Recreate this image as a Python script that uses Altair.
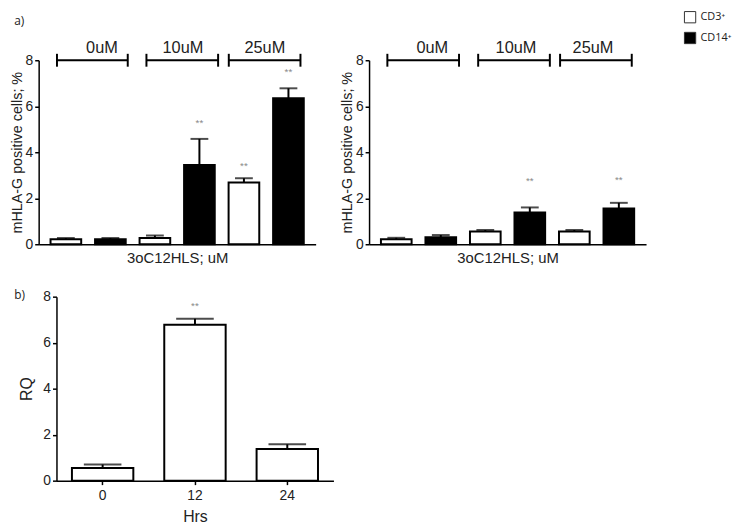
import altair as alt
import pandas as pd

# ---------- data: panel a) left ----------
pos = [1, 2, 3, 4, 5, 6]
cell = ["CD3⁺", "CD14⁺", "CD3⁺", "CD14⁺", "CD3⁺", "CD14⁺"]
a1_mean = [0.22, 0.22, 0.27, 3.45, 2.68, 6.35]
a1_upper = [0.27, 0.27, 0.38, 4.58, 2.87, 6.78]
a1_star_pos = [4, 5, 6]
a1_star_y = [5.25, 3.38, 7.47]

# ---------- data: panel a) right ----------
a2_mean = [0.22, 0.30, 0.55, 1.38, 0.55, 1.55]
a2_upper = [0.28, 0.40, 0.62, 1.60, 0.62, 1.80]
a2_star_pos = [4, 6]
a2_star_y = [2.75, 2.78]

# ---------- concentration brackets ----------
conc = ["0uM", "10uM", "25uM"]
a1_br_start = [0.80, 2.81, 4.66]
a1_br_end = [2.39, 4.42, 6.27]
a1_lab_x = [1.81, 3.63, 5.47]
a2_br_start = [0.80, 2.84, 4.68]
a2_br_end = [2.41, 4.45, 6.29]
a2_lab_x = [1.81, 3.69, 5.42]
br_y = [8.0, 8.0, 8.0]
br_lo = [7.72, 7.72, 7.72]
br_hi = [8.28, 8.28, 8.28]
lab_y = [8.55, 8.55, 8.55]

# ---------- data: panel b) ----------
hrs = ["0", "12", "24"]
rq = [0.55, 6.78, 1.38]
rq_upper = [0.70, 7.04, 1.58]
b_star_x = ["12"]
b_star_y = [7.6]

# ---------- panel tags (in panel a) left data units) ----------
tag_text = ["a)", "b)"]
tag_x = [-0.16, -0.16]
tag_y = [9.72, -2.19]

cells_domain = ["CD3⁺", "CD14⁺"]
cells_range = ["white", "black"]

# ---------- layout (pixels inside the view) ----------
W, H = 742, 517
A1_X = [31, 311]
A2_X = [365, 645]
A_Y = [236, 50]
B_X = [49, 329]
B_Y = [475, 289]

FONT = "Liberation Sans"

legend = alt.Legend(title=None, orient="none", legendX=683, legendY=0,
                    symbolType="square", symbolSize=130, symbolStrokeColor="#333",
                    symbolStrokeWidth=1, labelFont="Open Sans", labelFontSize=11,
                    labelColor="#222", rowPadding=4, padding=0)


def panel_a(mean, upper, star_pos, star_y, bs, be, lx, xrange, tags=False):
    df = pd.DataFrame({"pos": pos, "cell": cell, "mean": mean, "upper": upper})
    sdf = pd.DataFrame({"pos": star_pos, "y": star_y, "t": ["**"] * len(star_pos)})
    bdf = pd.DataFrame({"s": bs, "e": be, "y": br_y, "lo": br_lo, "hi": br_hi,
                        "lx": lx, "ly": lab_y, "lab": conc})
    xs = alt.Scale(domain=[0.5, 6.5], range=xrange, nice=False, zero=False)
    ys = alt.Scale(domain=[0, 8], range=A_Y, nice=False, zero=False)
    xax = alt.Axis(orient="bottom", offset=A_Y[0] - H, title="3oC12HLS; uM",
                   labels=False, ticks=False, titlePadding=6, titleFontSize=15)
    yax = alt.Axis(orient="left", offset=-xrange[0], title="mHLA-G positive cells; %",
                   values=[0, 2, 4, 6, 8], format="d", titlePadding=1,
                   titleFontSize=14.5)
    bars = alt.Chart(df).mark_bar(stroke="black", strokeWidth=2, size=31,
                                  orient="vertical").encode(
        x=alt.X("pos:Q", scale=xs, axis=xax),
        y=alt.Y("mean:Q", scale=ys, axis=yax, stack=None),
        fill=alt.Fill("cell:N", scale=alt.Scale(domain=cells_domain, range=cells_range),
                      legend=legend),
    )
    err = alt.Chart(df).mark_rule(color="black", strokeWidth=2).encode(
        x="pos:Q", y="mean:Q", y2="upper:Q")
    cap = alt.Chart(df).mark_tick(color="black", thickness=2, size=18,
                                  orient="horizontal").encode(x="pos:Q", y="upper:Q")
    stars = alt.Chart(sdf).mark_text(color="#888", fontSize=10, font=FONT,
                                     baseline="middle").encode(
        x="pos:Q", y="y:Q", text="t:N")
    hline = alt.Chart(bdf).mark_rule(color="black", strokeWidth=2).encode(
        x="s:Q", x2="e:Q", y="y:Q")
    lcap = alt.Chart(bdf).mark_rule(color="black", strokeWidth=2).encode(
        x="s:Q", y="lo:Q", y2="hi:Q")
    rcap = alt.Chart(bdf).mark_rule(color="black", strokeWidth=2).encode(
        x="e:Q", y="lo:Q", y2="hi:Q")
    labs = alt.Chart(bdf).mark_text(color="#222", fontSize=16.5, font=FONT,
                                    baseline="middle").encode(
        x="lx:Q", y="ly:Q", text="lab:N")
    layers = [bars, err, cap, stars, hline, lcap, rcap, labs]
    if tags:
        tdf = pd.DataFrame({"x": tag_x, "y": tag_y, "t": tag_text})
        layers.append(alt.Chart(tdf).mark_text(
            color="#222", fontSize=12, font="Open Sans", align="left",
            baseline="middle").encode(x="x:Q", y="y:Q", text="t:N"))
    return alt.layer(*layers)


a1 = panel_a(a1_mean, a1_upper, a1_star_pos, a1_star_y,
             a1_br_start, a1_br_end, a1_lab_x, A1_X, tags=True)
a2 = panel_a(a2_mean, a2_upper, a2_star_pos, a2_star_y,
             a2_br_start, a2_br_end, a2_lab_x, A2_X)

# ---------- panel b ----------
bdf = pd.DataFrame({"hrs": hrs, "rq": rq, "upper": rq_upper})
bsdf = pd.DataFrame({"hrs": b_star_x, "y": b_star_y, "t": ["**"]})
bx = alt.X("hrs:N", sort=hrs,
           scale=alt.Scale(range=B_X, paddingInner=0.335, paddingOuter=0.1675),
           axis=alt.Axis(orient="bottom", offset=B_Y[0] - H, title="Hrs", labelAngle=0,
                         titleFontSize=16, titlePadding=6, labelPadding=4))
by = alt.Y("rq:Q", scale=alt.Scale(domain=[0, 8], range=B_Y, nice=False, zero=False),
           axis=alt.Axis(orient="left", offset=-B_X[0], title="RQ", format="d",
                         values=[0, 2, 4, 6, 8], titleFontSize=16, titlePadding=8))
b_bars = alt.Chart(bdf).mark_bar(fill="white", stroke="black", strokeWidth=2).encode(
    x=bx, y=by)
b_err = alt.Chart(bdf).mark_rule(color="black", strokeWidth=2).encode(
    x=alt.X("hrs:N", sort=hrs), y="rq:Q", y2="upper:Q")
b_cap = alt.Chart(bdf).mark_tick(color="black", thickness=2, size=38).encode(
    x=alt.X("hrs:N", sort=hrs), y="upper:Q")
b_star = alt.Chart(bsdf).mark_text(color="#888", fontSize=10, font=FONT,
                                   baseline="middle").encode(
    x=alt.X("hrs:N", sort=hrs), y="y:Q", text="t:N")
panel_b = alt.layer(b_bars, b_err, b_cap, b_star)

chart = alt.layer(a1, a2, panel_b).resolve_scale(
    x="independent", y="independent"
).properties(
    width=W, height=H, padding=0, autosize=alt.AutoSizeParams(type="none")
).configure_view(
    stroke=None
).configure_axis(
    grid=False, domainColor="black", domainWidth=1.5, tickColor="black",
    tickWidth=1.5, tickSize=4, labelFont=FONT, labelFontSize=14, labelColor="#222",
    titleFont=FONT, titleFontSize=15, titleFontWeight="normal", titleColor="#222",
    labelPadding=2,
)

chart.save("out.html", embed_options={"renderer": "svg", "actions": False})
